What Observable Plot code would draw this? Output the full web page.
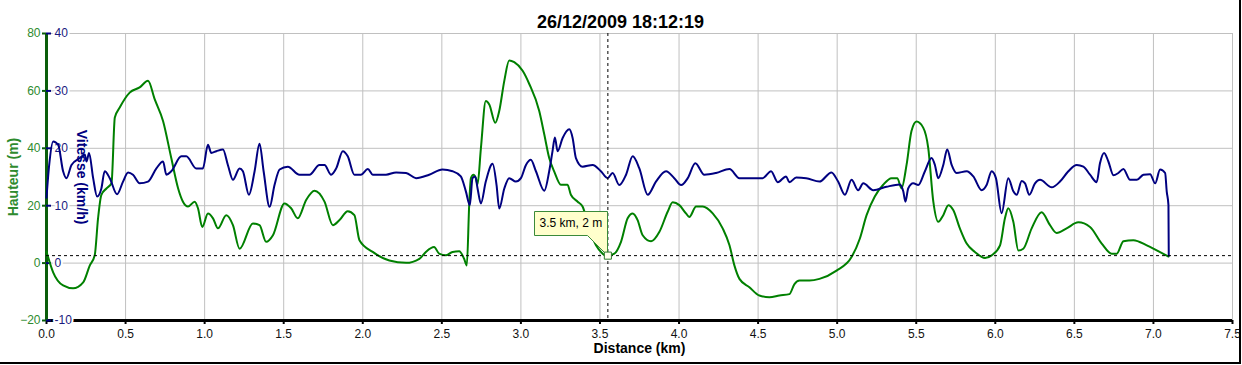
<!DOCTYPE html>
<html><head><meta charset="utf-8">
<script src="https://cdn.jsdelivr.net/npm/d3@7"></script>
<script src="https://cdn.jsdelivr.net/npm/@observablehq/plot@0.6"></script>
<style>
body{margin:0;background:#fff;}
#wrap{position:relative;width:1242px;height:365px;overflow:hidden;background:#fff;}
#edge{position:absolute;left:0;top:0;width:1239px;height:362px;border-right:2px solid #000;border-bottom:2px solid #000;pointer-events:none;}
</style></head><body><div id="wrap"><div id="edge"></div></div>
<script>
const chartTitle = "26/12/2009 18:12:19";
const xLabel = "Distance (km)";
const heightLabel = "Hauteur (m)";
const speedLabel = "Vitesse (km/h)";
const xTicks = [0,0.5,1,1.5,2,2.5,3,3.5,4,4.5,5,5.5,6,6.5,7,7.5];
const heightTicks = [-20,0,20,40,60,80];
const speedTicks = [-10,0,10,20,30,40];
const cursor = [{dist: 3.55, height: 2.6, label: "3.5 km, 2 m"}];

// [distance km, altitude m]
const heightProfile = [[0,4],[0.042,-3.2],[0.105,-7.8],[0.168,-8.8],[0.232,-6.7],[0.274,-0.8],[0.305,2.7],[0.326,15.6],[0.347,23.8],[0.379,26],[0.411,27.8],[0.432,50.7],[0.463,54.2],[0.526,59.4],[0.589,61.2],[0.642,63.5],[0.684,57.1],[0.737,49.5],[0.789,36.6],[0.832,26.1],[0.863,21.4],[0.895,19.7],[0.937,21.4],[0.958,19.1],[0.985,12.6],[1.021,17.3],[1.053,15.6],[1.084,12.1],[1.137,16.7],[1.179,13.2],[1.221,5.0],[1.305,13.8],[1.347,13.2],[1.389,7.4],[1.432,9.7],[1.505,20.8],[1.547,19.1],[1.589,15.6],[1.642,22],[1.695,25.2],[1.758,21.4],[1.811,13.2],[1.853,15],[1.905,18.1],[1.947,16.7],[1.979,8.0],[2.063,3.9],[2.168,0.9],[2.274,0.1],[2.358,1.5],[2.399,3.9],[2.451,5.6],[2.483,3.3],[2.525,2.7],[2.568,3.9],[2.610,4.1],[2.641,1.5],[2.658,-0.8],[2.673,20.2],[2.684,29.6],[2.700,30.8],[2.715,29.6],[2.726,27.5],[2.747,40],[2.778,56.5],[2.800,55.3],[2.838,48.9],[2.863,53],[2.895,63.5],[2.926,70.6],[2.958,70],[3.011,67],[3.053,62.4],[3.116,53],[3.148,44.8],[3.179,36.6],[3.211,31.9],[3.253,27.3],[3.295,27.3],[3.316,23.8],[3.359,21.4],[3.390,19.7],[3.432,12.1],[3.475,6.2],[3.517,3.3],[3.538,2.5],[3.591,3.3],[3.633,7.4],[3.675,15.6],[3.707,17.3],[3.738,15],[3.770,9.7],[3.823,7.6],[3.876,10.9],[3.928,17.9],[3.960,21.2],[4.002,20.2],[4.044,17.3],[4.065,16.1],[4.108,19.7],[4.150,19.7],[4.213,17.3],[4.276,12.1],[4.319,6.2],[4.350,-0.8],[4.382,-5.5],[4.445,-8.4],[4.508,-11.3],[4.572,-11.9],[4.635,-11.3],[4.698,-10.8],[4.730,-7.3],[4.762,-6.1],[4.825,-6.1],[4.888,-5.5],[4.996,-2.6],[5.091,2.1],[5.143,8.5],[5.186,16.7],[5.238,23.2],[5.291,27.3],[5.344,29.6],[5.380,29.6],[5.407,26.1],[5.439,34.3],[5.470,46],[5.502,49.3],[5.544,47.2],[5.576,40.1],[5.608,21.4],[5.639,14.4],[5.671,16.7],[5.703,20.2],[5.734,18.5],[5.776,12.1],[5.819,6.8],[5.871,3.9],[5.935,1.8],[5.977,2.7],[6.030,6.2],[6.061,15.6],[6.082,19.1],[6.114,14.4],[6.146,4.4],[6.177,5.0],[6.230,12.1],[6.293,17.7],[6.346,13.2],[6.388,10.5],[6.451,12.1],[6.525,14.2],[6.599,12.6],[6.673,6.8],[6.736,3.3],[6.768,3.3],[6.810,7.6],[6.873,8.0],[6.958,6.2],[7.021,4.4],[7.095,2.3]];

// [distance km, speed km/h]
const speedProfile = [[0,11.4],[0.017,17.1],[0.042,21.2],[0.074,20.6],[0.105,16],[0.126,14.8],[0.158,17.1],[0.211,18.3],[0.242,18.9],[0.253,17.7],[0.269,19.2],[0.295,14.8],[0.320,11.6],[0.347,13],[0.368,16],[0.400,14.8],[0.446,12],[0.484,14.2],[0.516,15.8],[0.547,15.4],[0.589,13.9],[0.642,14.2],[0.695,16.5],[0.737,17.7],[0.758,15.4],[0.789,16],[0.853,18.6],[0.884,18.6],[0.947,16.5],[0.989,16.5],[1.021,20.6],[1.042,19.2],[1.074,19.5],[1.116,19.8],[1.147,17.1],[1.179,14.5],[1.221,16.5],[1.242,16],[1.280,11.9],[1.316,16],[1.347,20.8],[1.373,16],[1.411,9.8],[1.442,13.6],[1.474,16.3],[1.526,16.8],[1.600,15.4],[1.663,15.4],[1.726,17.1],[1.758,17.1],[1.800,15.4],[1.832,16.5],[1.874,19.5],[1.905,18.6],[1.947,15.4],[1.989,15.4],[2.032,16.4],[2.063,15.4],[2.147,15.4],[2.211,15.8],[2.274,15.7],[2.337,14.8],[2.420,15.4],[2.504,16.3],[2.568,16],[2.620,15.1],[2.652,12.5],[2.677,10.1],[2.694,14.8],[2.711,15.1],[2.726,13],[2.747,10.4],[2.778,14.2],[2.821,17.3],[2.846,13.6],[2.863,9.5],[2.895,13],[2.926,14.8],[2.968,14.2],[3.000,14.8],[3.032,17.1],[3.063,18],[3.095,16],[3.148,12.6],[3.179,16],[3.200,19.5],[3.215,21.9],[3.232,19.5],[3.264,21.8],[3.306,23.3],[3.327,21.8],[3.348,18.3],[3.390,16.8],[3.454,17.1],[3.506,16],[3.549,14.8],[3.580,15.7],[3.622,13.6],[3.665,15.4],[3.707,18.6],[3.749,16.5],[3.802,11.9],[3.854,14.2],[3.918,16],[3.970,14.8],[4.013,13.6],[4.055,14.8],[4.103,17.4],[4.160,15.4],[4.234,15.7],[4.319,16.4],[4.382,14.8],[4.466,14.8],[4.529,14.8],[4.582,16],[4.624,14.1],[4.677,15.1],[4.698,14.1],[4.741,14.9],[4.804,14.8],[4.888,14.2],[4.964,15.8],[5.006,14.2],[5.049,11.9],[5.091,14.5],[5.133,12.7],[5.165,13.9],[5.228,12.7],[5.312,13.3],[5.397,13.7],[5.418,12.5],[5.432,10.7],[5.449,13],[5.481,13.9],[5.513,13.6],[5.555,16],[5.597,18.3],[5.618,17.1],[5.639,14.8],[5.671,17.1],[5.696,19.8],[5.724,17.1],[5.755,15.7],[5.819,16],[5.861,15.1],[5.914,12.7],[5.945,13.6],[5.977,16],[6.004,14.8],[6.040,8.7],[6.082,14.8],[6.114,12.5],[6.135,11.9],[6.167,14.3],[6.188,13.9],[6.215,11.9],[6.251,13.9],[6.283,14.5],[6.357,13.2],[6.409,14.2],[6.462,16],[6.515,17.1],[6.557,16.8],[6.599,15.4],[6.641,14.1],[6.662,17.4],[6.688,19.2],[6.715,17.7],[6.747,15.3],[6.778,15.7],[6.810,16.4],[6.852,14.5],[6.895,14.5],[6.937,15.4],[6.979,15.5],[7.011,13.9],[7.042,16.3],[7.074,15.7],[7.084,12.5],[7.095,10.1],[7.097,1.3]];

// speed axis shares the altitude scale: 1 km/h <-> 2 m
const speedToHeight = 2;

const green = "#008000", navy = "#000080";
const plot = Plot.plot({
  width: 1242, height: 365,
  marginTop: 33, marginBottom: 45, marginLeft: 46, marginRight: 10,
  style: {fontFamily: "'Liberation Sans', Arial, sans-serif", fontSize: "12px", background: "transparent", color: "#000"},
  x: {domain: [0, 7.5]},
  y: {domain: [-20, 80]},
  marks: [
    Plot.gridX(xTicks, {stroke: "#c0c0c0", strokeOpacity: 1}),
    Plot.gridY(heightTicks.slice(1), {stroke: "#c0c0c0", strokeOpacity: 1}),
    Plot.ruleY([-20], {stroke: "#000", strokeWidth: 3}),
    Plot.ruleX([0], {stroke: "#0b5e0b", strokeWidth: 3}),
    Plot.axisX(xTicks, {tickSize: 4, tickPadding: 5, strokeWidth: 2, tickFormat: d3.format(".1f"), label: null, fill: "#111", fontSize: 12}),
    Plot.axisY(heightTicks, {anchor: "left", tickSize: 4, tickPadding: 2, fill: "#2e8b2e", stroke: "#0b5e0b", strokeWidth: 2, label: null, fontSize: 12}),
    Plot.axisY(speedTicks.map(v => v * speedToHeight), {anchor: "left", tickSize: -5, tickPadding: -3, textAnchor: "start", tickFormat: d => d / speedToHeight, fill: "#1a1a80", stroke: navy, strokeWidth: 2, textStroke: "white", textStrokeWidth: 4, label: null, fontSize: 12}),
    Plot.line(heightProfile, {x: d => d[0], y: d => d[1], stroke: green, strokeWidth: 2, curve: "monotone-x"}),
    Plot.line(speedProfile, {x: d => d[0], y: d => d[1] * speedToHeight, stroke: navy, strokeWidth: 2, curve: "monotone-x"}),
    Plot.ruleY(cursor, {y: "height", stroke: "#000", strokeDasharray: "3,3", strokeWidth: 1}),
    Plot.ruleX(cursor, {x: "dist", stroke: "#000", strokeDasharray: "3,3", strokeWidth: 1}),
    Plot.tip(cursor, {x: "dist", y: "height", title: "label", anchor: "bottom-right", pointerSize: 20, textPadding: 5, fontSize: 12, fill: "#ffffcc", stroke: "#3a8a3a", pathFilter: "none"}),
    Plot.dot(cursor, {x: "dist", y: "height", symbol: "square", r: 4, stroke: "#2e7d2e", fill: "#ffffee", strokeWidth: 1}),
    Plot.dot(cursor, {x: "dist", y: "height", symbol: "plus", r: 2.2, fill: "#000"}),
    Plot.text([chartTitle], {text: d => d, frameAnchor: "top", dy: -18, dx: -19, fontWeight: "bold", fontSize: 18, fill: "#000"}),
    Plot.text([heightLabel], {text: d => d, frameAnchor: "left", dx: -33, rotate: -90, textAnchor: "middle", fontWeight: "bold", fontSize: 14, fill: "#2e8b2e"}),
    Plot.text([speedLabel], {text: d => d, frameAnchor: "left", dx: 35, rotate: 90, textAnchor: "middle", fontWeight: "bold", fontSize: 14, fill: navy}),
    Plot.text([xLabel], {text: d => d, frameAnchor: "bottom", dy: 32, textAnchor: "middle", fontWeight: "bold", fontSize: 14, fill: "#000"})
  ]
});
document.getElementById("wrap").prepend(plot);
</script></body></html>
